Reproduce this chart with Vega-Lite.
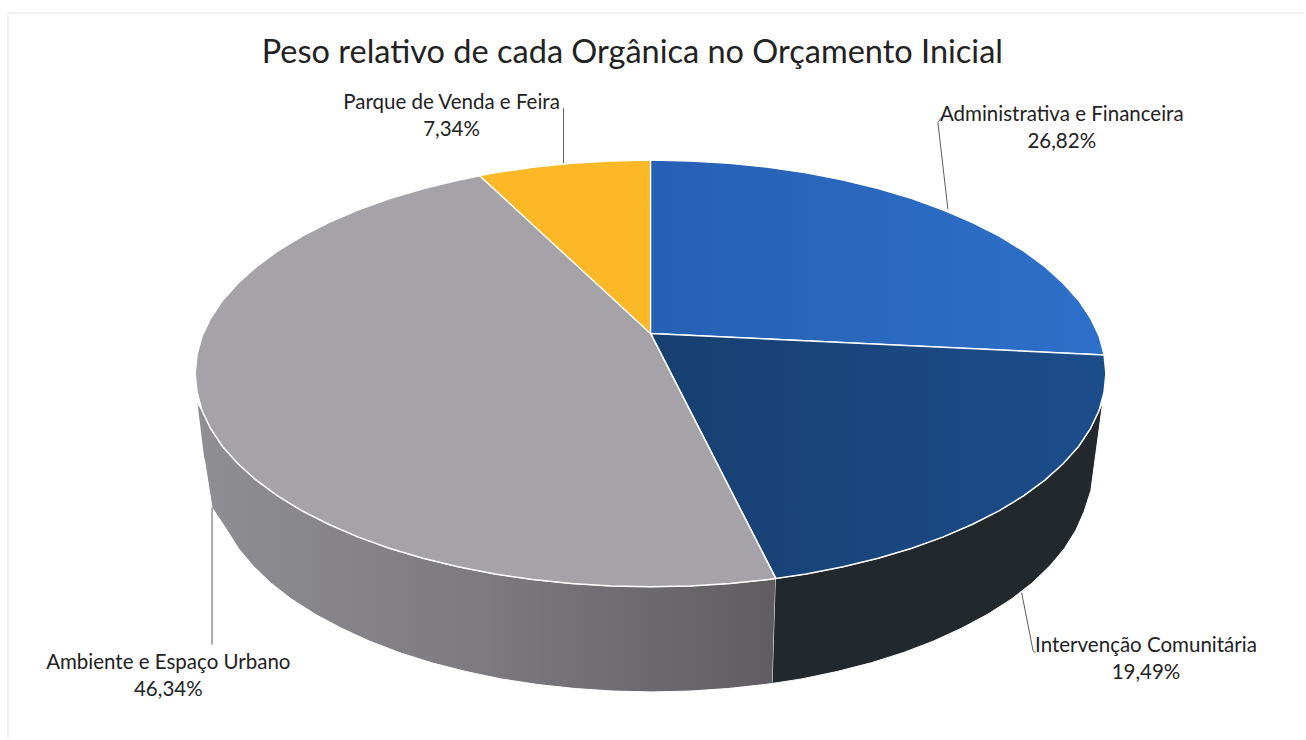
{"$schema":"https://vega.github.io/schema/vega-lite/v6.json","width":1306,"height":740,"padding":0,"autosize":{"type":"fit","contains":"padding"},"background":"white","config":{"view":{"stroke":null}},
"datasets":{
"wallGrey":[{"i":1,"x":-99.5,"y":-14},{"i":2,"x":-98.5,"y":-17.4},{"i":3,"x":-96.6,"y":-25.9},{"i":4,"x":-94,"y":-34.2},{"i":5,"x":-90.6,"y":-42.3},{"i":6,"x":-86.6,"y":-50},{"i":7,"x":-81.9,"y":-57.4},{"i":8,"x":-76.6,"y":-64.3},{"i":9,"x":-70.7,"y":-70.7},{"i":10,"x":-64.3,"y":-76.6},{"i":11,"x":-57.4,"y":-81.9},{"i":12,"x":-50,"y":-86.6},{"i":13,"x":-42.3,"y":-90.6},{"i":14,"x":-34.2,"y":-94},{"i":15,"x":-25.9,"y":-96.6},{"i":16,"x":-17.4,"y":-98.5},{"i":17,"x":-8.7,"y":-99.6},{"i":18,"x":0,"y":-100},{"i":19,"x":8.7,"y":-99.6},{"i":20,"x":17.4,"y":-98.5},{"i":21,"x":25.9,"y":-96.6},{"i":22,"x":27.5,"y":-96.1},{"i":23,"x":26.8,"y":-145.3},{"i":24,"x":25.2,"y":-145.8},{"i":25,"x":17,"y":-147.7},{"i":26,"x":8.6,"y":-148.9},{"i":27,"x":0.2,"y":-149.3},{"i":28,"x":-8.2,"y":-148.9},{"i":29,"x":-16.6,"y":-147.7},{"i":30,"x":-24.8,"y":-145.8},{"i":31,"x":-32.8,"y":-143.2},{"i":32,"x":-40.6,"y":-139.7},{"i":33,"x":-48.1,"y":-135.6},{"i":34,"x":-55.2,"y":-130.8},{"i":35,"x":-61.8,"y":-125.4},{"i":36,"x":-68,"y":-119.3},{"i":37,"x":-73.7,"y":-112.8},{"i":38,"x":-78.9,"y":-105.7},{"i":39,"x":-83.4,"y":-98.2},{"i":40,"x":-87.3,"y":-90.2},{"i":41,"x":-90.5,"y":-82},{"i":42,"x":-93,"y":-73.5},{"i":43,"x":-96.3,"y":-62.9},{"i":44,"x":-98,"y":-40}],
"wallNavy":[{"i":1,"x":27.5,"y":-96.1},{"i":2,"x":34.2,"y":-94},{"i":3,"x":42.3,"y":-90.6},{"i":4,"x":50,"y":-86.6},{"i":5,"x":57.4,"y":-81.9},{"i":6,"x":64.3,"y":-76.6},{"i":7,"x":70.7,"y":-70.7},{"i":8,"x":76.6,"y":-64.3},{"i":9,"x":81.9,"y":-57.4},{"i":10,"x":86.6,"y":-50},{"i":11,"x":90.6,"y":-42.3},{"i":12,"x":94,"y":-34.2},{"i":13,"x":96.6,"y":-25.9},{"i":14,"x":99.3,"y":-13.6},{"i":15,"x":96.7,"y":-54.9},{"i":16,"x":95.2,"y":-64.8},{"i":17,"x":93.4,"y":-73.5},{"i":18,"x":90.9,"y":-82},{"i":19,"x":87.7,"y":-90.2},{"i":20,"x":83.8,"y":-98.2},{"i":21,"x":79.3,"y":-105.7},{"i":22,"x":74.1,"y":-112.8},{"i":23,"x":68.4,"y":-119.3},{"i":24,"x":62.2,"y":-125.4},{"i":25,"x":55.6,"y":-130.8},{"i":26,"x":48.5,"y":-135.6},{"i":27,"x":41,"y":-139.7},{"i":28,"x":33.2,"y":-143.2},{"i":29,"x":26.8,"y":-145.3}],
"topBlue":[{"i":0,"x":0,"y":18.8},{"i":1,"x":0,"y":100},{"i":2,"x":8.7,"y":99.6},{"i":3,"x":17.4,"y":98.5},{"i":4,"x":25.9,"y":96.6},{"i":5,"x":34.2,"y":94},{"i":6,"x":42.3,"y":90.6},{"i":7,"x":50,"y":86.6},{"i":8,"x":57.4,"y":81.9},{"i":9,"x":64.3,"y":76.6},{"i":10,"x":70.7,"y":70.7},{"i":11,"x":76.6,"y":64.3},{"i":12,"x":81.9,"y":57.4},{"i":13,"x":86.6,"y":50},{"i":14,"x":90.6,"y":42.3},{"i":15,"x":94,"y":34.2},{"i":16,"x":96.6,"y":25.9},{"i":17,"x":98.5,"y":17.4},{"i":18,"x":99.6,"y":8.7},{"i":19,"x":0,"y":18.8}],
"topNavy":[{"i":0,"x":0,"y":18.8},{"i":1,"x":99.6,"y":8.7},{"i":2,"x":100,"y":0},{"i":3,"x":99.6,"y":-8.7},{"i":4,"x":98.5,"y":-17.4},{"i":5,"x":96.6,"y":-25.9},{"i":6,"x":94,"y":-34.2},{"i":7,"x":90.6,"y":-42.3},{"i":8,"x":86.6,"y":-50},{"i":9,"x":81.9,"y":-57.4},{"i":10,"x":76.6,"y":-64.3},{"i":11,"x":70.7,"y":-70.7},{"i":12,"x":64.3,"y":-76.6},{"i":13,"x":57.4,"y":-81.9},{"i":14,"x":50,"y":-86.6},{"i":15,"x":42.3,"y":-90.6},{"i":16,"x":34.2,"y":-94},{"i":17,"x":27.5,"y":-96.1},{"i":18,"x":0,"y":18.8}],
"topGrey":[{"i":0,"x":0,"y":18.8},{"i":1,"x":27.5,"y":-96.1},{"i":2,"x":25.9,"y":-96.6},{"i":3,"x":17.4,"y":-98.5},{"i":4,"x":8.7,"y":-99.6},{"i":5,"x":0,"y":-100},{"i":6,"x":-8.7,"y":-99.6},{"i":7,"x":-17.4,"y":-98.5},{"i":8,"x":-25.9,"y":-96.6},{"i":9,"x":-34.2,"y":-94},{"i":10,"x":-42.3,"y":-90.6},{"i":11,"x":-50,"y":-86.6},{"i":12,"x":-57.4,"y":-81.9},{"i":13,"x":-64.3,"y":-76.6},{"i":14,"x":-70.7,"y":-70.7},{"i":15,"x":-76.6,"y":-64.3},{"i":16,"x":-81.9,"y":-57.4},{"i":17,"x":-86.6,"y":-50},{"i":18,"x":-90.6,"y":-42.3},{"i":19,"x":-94,"y":-34.2},{"i":20,"x":-96.6,"y":-25.9},{"i":21,"x":-98.5,"y":-17.4},{"i":22,"x":-99.6,"y":-8.7},{"i":23,"x":-100,"y":0},{"i":24,"x":-99.6,"y":8.7},{"i":25,"x":-98.5,"y":17.4},{"i":26,"x":-96.6,"y":25.9},{"i":27,"x":-94,"y":34.2},{"i":28,"x":-90.6,"y":42.3},{"i":29,"x":-86.6,"y":50},{"i":30,"x":-81.9,"y":57.4},{"i":31,"x":-76.6,"y":64.3},{"i":32,"x":-70.7,"y":70.7},{"i":33,"x":-64.3,"y":76.6},{"i":34,"x":-57.4,"y":81.9},{"i":35,"x":-50,"y":86.6},{"i":36,"x":-42.3,"y":90.6},{"i":37,"x":-37.5,"y":92.7},{"i":38,"x":0,"y":18.8}],
"topYellow":[{"i":0,"x":0,"y":18.8},{"i":1,"x":-37.5,"y":92.7},{"i":2,"x":-34.2,"y":94},{"i":3,"x":-25.9,"y":96.6},{"i":4,"x":-17.4,"y":98.5},{"i":5,"x":-8.7,"y":99.6},{"i":6,"x":0,"y":100},{"i":7,"x":0,"y":18.8}],
"leaders":[{"g":"Parque","i":1,"x":-19.1,"y":124.4},{"g":"Parque","i":2,"x":-19.1,"y":98.6},{"g":"Admin","i":1,"x":64,"y":120.2},{"g":"Admin","i":2,"x":63.1,"y":117.8},{"g":"Admin","i":3,"x":65.3,"y":77},{"g":"Interv","i":1,"x":81.5,"y":-102.8},{"g":"Interv","i":2,"x":84,"y":-130},{"g":"Interv","i":3,"x":84.6,"y":-131},{"g":"Amb","i":1,"x":-96.3,"y":-62.9},{"g":"Amb","i":2,"x":-96.3,"y":-127.2}],
"frame":[{"i":1,"x":143.5,"y":169},{"i":2,"x":-141.1,"y":169},{"i":3,"x":-141.1,"y":-170.9}],
"labels":[{"label":"Parque de Venda e Feira\n7,34%","x":-43.7,"y":123.9},{"label":"Administrativa e Financeira\n26,82%","x":90.3,"y":118.3},{"label":"Intervenção Comunitária\n19,49%","x":108.8,"y":-130.5},{"label":"Ambiente e Espaço Urbano\n46,34%","x":-105.9,"y":-138.5}],
"heading":[{"label":"Peso relativo de cada Orgânica no Orçamento Inicial","x":-4,"y":145.5}]
},
"encoding":{"x":{"field":"x","type":"quantitative","scale":{"domain":[-142.86,143.5]},"axis":null},"y":{"field":"y","type":"quantitative","scale":{"domain":[-170.9,175.1]},"axis":null}},
"layer":[
{"data":{"name":"frame"},"mark":{"type":"line","stroke":"#e6e6e6","strokeWidth":1},"encoding":{"order":{"field":"i"}}},
{"data":{"name":"wallGrey"},"mark":{"type":"line","filled":true,"fill":{"gradient":"linear","x1":0,"y1":0,"x2":1,"y2":0,"stops":[{"offset":0,"color":"#8f8e93"},{"offset":0.5,"color":"#7c7a7f"},{"offset":1,"color":"#5f5d60"}]},"stroke":"white","strokeWidth":1},"encoding":{"order":{"field":"i"}}},
{"data":{"name":"wallNavy"},"mark":{"type":"line","filled":true,"fill":"#22282c","stroke":"white","strokeWidth":1},"encoding":{"order":{"field":"i"}}},
{"data":{"name":"topBlue"},"mark":{"type":"line","filled":true,"fill":{"gradient":"linear","x1":0,"y1":0,"x2":1,"y2":0,"stops":[{"offset":0,"color":"#2660b4"},{"offset":1,"color":"#2d70c9"}]},"stroke":"white","strokeWidth":1.2},"encoding":{"order":{"field":"i"}}},
{"data":{"name":"topNavy"},"mark":{"type":"line","filled":true,"fill":{"gradient":"linear","x1":0,"y1":0,"x2":1,"y2":0,"stops":[{"offset":0,"color":"#173f70"},{"offset":1,"color":"#1c4d8b"}]},"stroke":"white","strokeWidth":1.5},"encoding":{"order":{"field":"i"}}},
{"data":{"name":"topGrey"},"mark":{"type":"line","filled":true,"fill":"#a5a3a8","stroke":"white","strokeWidth":1.5},"encoding":{"order":{"field":"i"}}},
{"data":{"name":"topYellow"},"mark":{"type":"line","filled":true,"fill":"#fcb826","stroke":"white","strokeWidth":1.2},"encoding":{"order":{"field":"i"}}},
{"data":{"name":"leaders"},"mark":{"type":"line","stroke":"#5c5c5c","strokeWidth":1},"encoding":{"detail":{"field":"g"},"order":{"field":"i"}}},
{"data":{"name":"labels"},"mark":{"type":"text","font":"Lato","fontSize":20.5,"color":"#222222","lineBreak":"\n","lineHeight":27,"align":"center","baseline":"alphabetic"},"encoding":{"text":{"field":"label"}}},
{"data":{"name":"heading"},"mark":{"type":"text","font":"Lato","fontSize":32.5,"color":"#222222","align":"center","baseline":"alphabetic"},"encoding":{"text":{"field":"label"}}}
]}
